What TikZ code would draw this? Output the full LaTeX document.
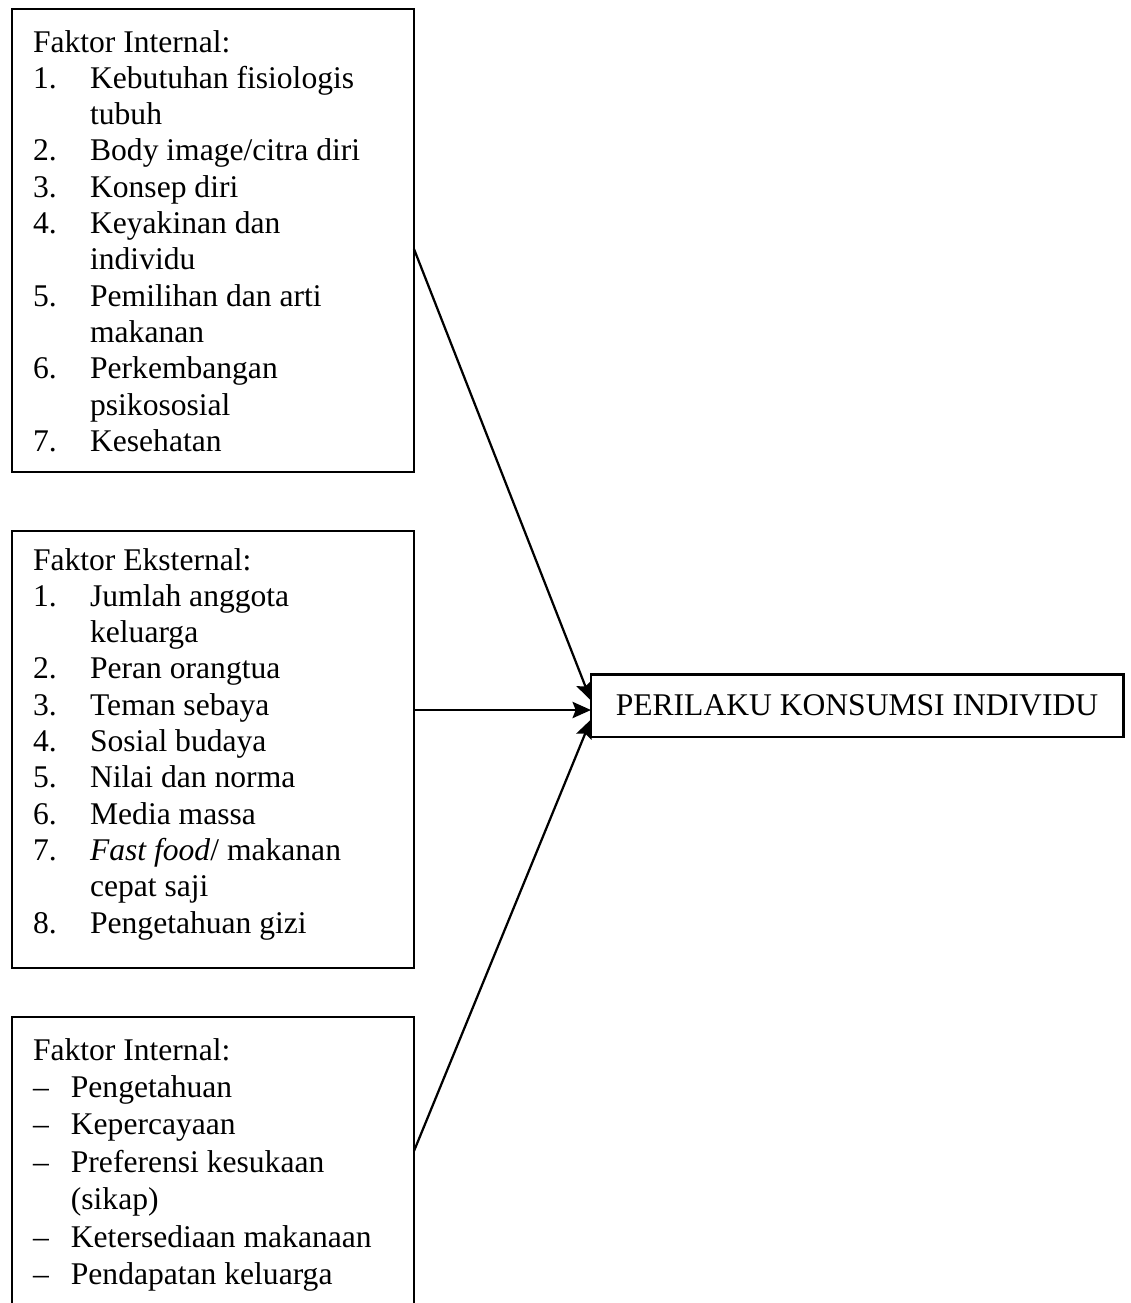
\documentclass[tikz,border=0pt]{standalone}
\usepackage{fontspec}
\setmainfont{Liberation Serif}
\usepackage{array}
\usetikzlibrary{arrows.meta,calc,fit}
\tikzset{
    >={Stealth[length=7pt,width=6.2pt,inset=1.2pt]},
    box/.style={draw,line width=1.1pt,inner sep=0pt,outer sep=0pt},
    result/.style={box,minimum width=202.2pt,minimum height=23.9pt},
    itemlist/.style={anchor=base west,inner sep=0pt},
    every edge/.append style={line width=0.85pt},
}

\begin{document}
\begin{tikzpicture}[x=0.38pt,y=-0.38pt,font=\fontsize{12}{13.8}\selectfont]
    \useasboundingbox (0,0) rectangle (1131,1303);
    \clip (0,0) rectangle (1131,1303);

    \node[box,fit={(12,9) (414,472)}]     (intern)   {};
    \node[box,fit={(12,531) (414,968)}]   (extern)   {};
    \node[box,fit={(12,1017) (414,1340)}] (internB)  {};
    \node[result] (perilaku) at (857,705.5) {PERILAKU KONSUMSI INDIVIDU};

    \node[itemlist] (internList) at (32.5,52) {%
        \begin{tabular}[t]{@{}p{21.7pt}@{}l@{}}
            \multicolumn{2}{@{}l@{}}{Faktor Internal:} \\
            1. & Kebutuhan fisiologis \\
               & tubuh \\
            2. & Body image/citra diri \\
            3. & Konsep diri \\
            4. & Keyakinan dan \\
               & individu \\
            5. & Pemilihan dan arti \\
               & makanan \\
            6. & Perkembangan \\
               & psikososial \\
            7. & Kesehatan \\
        \end{tabular}%
    };

    \node[itemlist] (externList) at (32.5,570) {%
        \begin{tabular}[t]{@{}p{21.7pt}@{}l@{}}
            \multicolumn{2}{@{}l@{}}{Faktor Eksternal:} \\
            1. & Jumlah anggota \\
               & keluarga \\
            2. & Peran orangtua \\
            3. & Teman sebaya \\
            4. & Sosial budaya \\
            5. & Nilai dan norma \\
            6. & Media massa \\
            7. & \textit{Fast food}/ makanan \\
               & cepat saji \\
            8. & Pengetahuan gizi \\
        \end{tabular}%
    };

    \node[itemlist] (internBList) at (32.5,1060) {%
        \renewcommand{\arraystretch}{1.03}%
        \begin{tabular}[t]{@{}p{14.4pt}@{}l@{}}
            \multicolumn{2}{@{}l@{}}{Faktor Internal:} \\
            \textendash & Pengetahuan \\
            \textendash & Kepercayaan \\
            \textendash & Preferensi kesukaan \\
                        & (sikap) \\
            \textendash & Ketersediaan makanaan \\
            \textendash & Pendapatan keluarga \\
        \end{tabular}%
    };

    \coordinate (tipA) at ($(perilaku.west)+(0,-5)$);
    \coordinate (tipB) at ($(perilaku.west)+(0,4.5)$);
    \coordinate (tipC) at ($(perilaku.west)+(0,14)$);

    \path[->] ($(intern.north east)+(0,240)$)  edge (tipA)
              ($(extern.north east)+(0,179)$)  edge (tipB)
              ($(internB.north east)+(0,134)$) edge (tipC);
\end{tikzpicture}
\end{document}
